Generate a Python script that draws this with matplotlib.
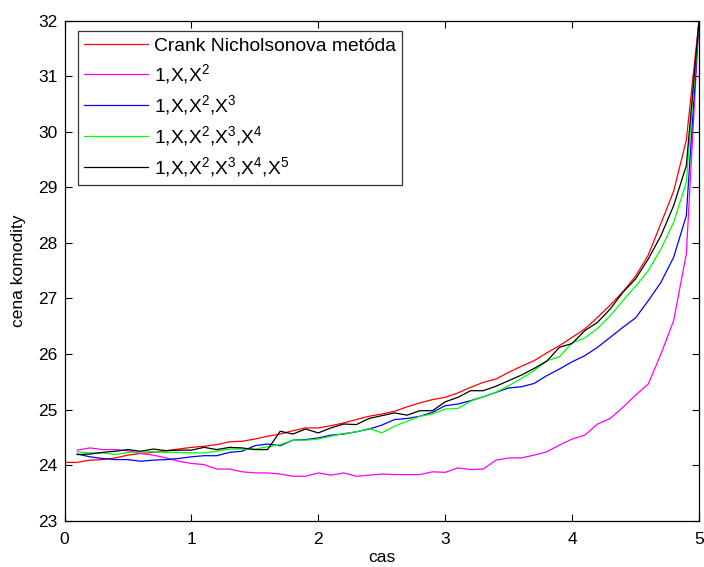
import matplotlib
matplotlib.use("Agg")
import matplotlib.pyplot as plt
import numpy as np

plt.rcParams['font.family'] = ['Liberation Sans', 'DejaVu Sans']
plt.rcParams['mathtext.fontset'] = 'custom'
plt.rcParams['mathtext.rm'] = 'Liberation Sans'
plt.rcParams['mathtext.it'] = 'Liberation Sans'
plt.rcParams['mathtext.default'] = 'regular'

x_cn = [i / 10 for i in range(0, 51)]
x_fit = [i / 10 for i in range(1, 51)]

crank = [24.05, 24.05, 24.09, 24.10, 24.13, 24.18, 24.21, 24.23, 24.26, 24.29,
         24.32, 24.34, 24.37, 24.42, 24.43, 24.47, 24.52, 24.56, 24.62, 24.67,
         24.67, 24.71, 24.76, 24.82, 24.88, 24.92, 24.97, 25.05, 25.12, 25.18,
         25.22, 25.30, 25.40, 25.49, 25.55, 25.67, 25.78, 25.88, 26.02, 26.15,
         26.30, 26.45, 26.66, 26.88, 27.12, 27.40, 27.78, 28.35, 28.93, 29.85,
         32.0]

p2 = [24.27, 24.31, 24.28, 24.28, 24.26, 24.21, 24.18, 24.13, 24.07, 24.03,
      24.01, 23.93, 23.93, 23.88, 23.86, 23.86, 23.84, 23.80, 23.80, 23.86,
      23.82, 23.86, 23.80, 23.82, 23.84, 23.83, 23.83, 23.83, 23.88, 23.87,
      23.95, 23.92, 23.93, 24.09, 24.13, 24.13, 24.18, 24.24, 24.36, 24.47,
      24.54, 24.74, 24.84, 25.04, 25.26, 25.46, 26.00, 26.60, 27.80, 32.0]

p3 = [24.20, 24.15, 24.12, 24.10, 24.10, 24.07, 24.09, 24.10, 24.12, 24.15,
      24.17, 24.17, 24.23, 24.25, 24.35, 24.38, 24.35, 24.45, 24.46, 24.49,
      24.54, 24.56, 24.60, 24.65, 24.72, 24.82, 24.84, 24.88, 24.95, 25.07,
      25.10, 25.16, 25.23, 25.31, 25.39, 25.41, 25.47, 25.61, 25.73, 25.86,
      25.97, 26.12, 26.30, 26.48, 26.65, 26.96, 27.29, 27.74, 28.49, 32.0]

p4 = [24.24, 24.22, 24.22, 24.19, 24.23, 24.24, 24.24, 24.23, 24.23, 24.22,
      24.22, 24.25, 24.29, 24.29, 24.29, 24.33, 24.37, 24.45, 24.45, 24.47,
      24.52, 24.57, 24.60, 24.66, 24.58, 24.70, 24.79, 24.88, 24.92, 25.01,
      25.02, 25.15, 25.23, 25.31, 25.43, 25.56, 25.70, 25.88, 25.95, 26.20,
      26.29, 26.46, 26.69, 26.96, 27.22, 27.50, 27.89, 28.37, 29.09, 32.0]

p5 = [24.19, 24.20, 24.23, 24.25, 24.28, 24.25, 24.29, 24.26, 24.27, 24.27,
      24.32, 24.28, 24.32, 24.31, 24.28, 24.28, 24.61, 24.56, 24.65, 24.58,
      24.67, 24.74, 24.73, 24.84, 24.89, 24.94, 24.90, 24.98, 24.98, 25.14,
      25.22, 25.34, 25.34, 25.42, 25.52, 25.62, 25.74, 25.87, 26.12, 26.19,
      26.42, 26.57, 26.81, 27.11, 27.35, 27.71, 28.13, 28.67, 29.39, 32.0]

labels = ['Crank Nicholsonova metóda',
          '1,X,X$^2$',
          '1,X,X$^2$,X$^3$',
          '1,X,X$^2$,X$^3$,X$^4$',
          '1,X,X$^2$,X$^3$,X$^4$,X$^5$']
colors = ['#ff0000', '#ff00ff', '#0000ff', '#00ff00', '#000000']

xticks = [0, 1, 2, 3, 4, 5]
yticks = list(range(23, 33))

fig = plt.figure(figsize=(7.04, 5.67), dpi=100)
ax = fig.add_axes([64.5 / 704, 1 - 520.7 / 567, 634.5 / 704, 500 / 567])

series = [(x_cn, crank), (x_fit, p2), (x_fit, p3), (x_fit, p4), (x_fit, p5)]
for (xs, ys), lab, c in zip(series, labels, colors):
    ax.plot(xs, ys, color=c, lw=0.9, label=lab)

ax.set_xlim(0, 5)
ax.set_ylim(23, 32)
ax.set_xticks(xticks)
ax.set_yticks(yticks)
ax.tick_params(axis='both', direction='in', length=5, width=0.8, top=True,
               right=True, labelsize=12.5)
ax.tick_params(axis='x', pad=8)
ax.tick_params(axis='y', pad=5)
for s in ax.spines.values():
    s.set_linewidth(0.9)
ax.set_xlabel('cas', fontsize=12.5, labelpad=2.5)
ax.set_ylabel('cena komodity', fontsize=12.5, labelpad=9)

leg = ax.legend(loc='upper left', bbox_to_anchor=(0.0213, 0.979), fontsize=13.9,
                frameon=True, fancybox=False, edgecolor='black',
                handlelength=3.3, handletextpad=0.35, labelspacing=0.38,
                borderpad=0.3, borderaxespad=0)
leg.get_frame().set_linewidth(0.9)

fig.savefig('out.png', dpi=100)
